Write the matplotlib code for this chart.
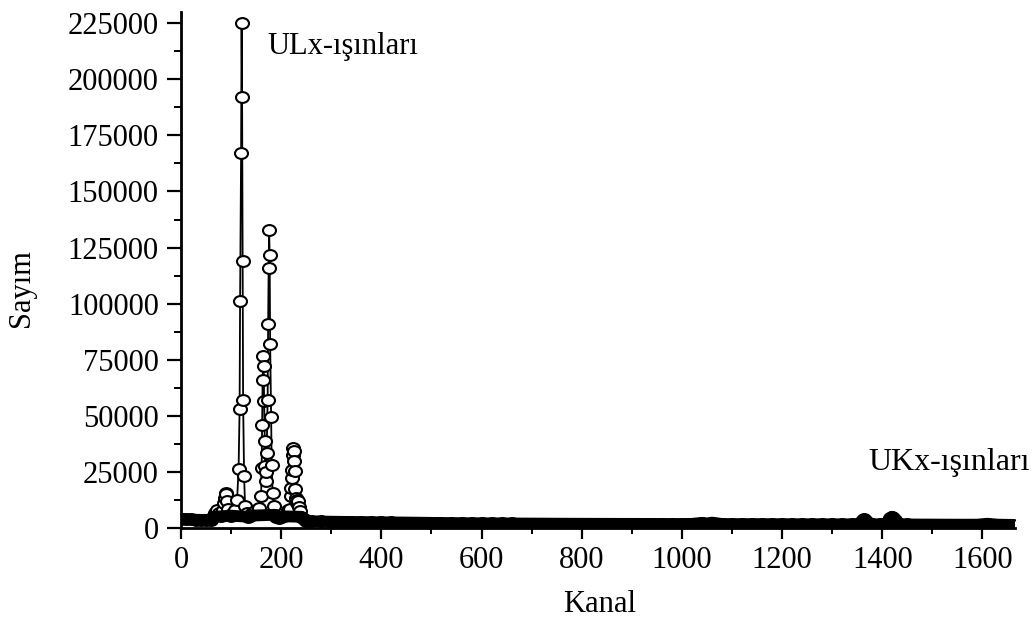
import matplotlib
matplotlib.use("Agg")
import matplotlib.pyplot as plt
import numpy as np
from matplotlib.ticker import MultipleLocator, FuncFormatter
from matplotlib.markers import MarkerStyle
from matplotlib.transforms import Affine2D

plt.rcParams['font.family'] = ['Liberation Serif', 'DejaVu Serif']

# --- data (channel, counts) ---
kanal = [0, 10, 20, 30, 40, 50, 60,
         64, 68, 72, 76, 80, 84, 86, 88, 89, 90, 92, 94, 97, 100, 104, 108,
         112, 115, 117, 118, 120, 121, 122, 123, 124, 126, 128, 131, 134,
         138, 142, 146, 150, 153, 156,
         160, 161, 162, 163, 164, 165, 166, 167, 168, 169, 170, 171, 173,
         174, 175, 176, 177, 178, 180, 181, 183, 185, 187,
         190, 195, 200, 205, 210, 214,
         217, 219, 220, 221, 222, 223, 224, 225, 226, 227, 228, 229, 231,
         232, 234, 235, 237, 240, 245, 250,
         260, 280, 300, 320, 340, 360, 380, 400, 420, 440, 460, 480, 500,
         520, 540, 560, 580, 600, 620, 640, 660, 680, 700, 720, 740, 760,
         780, 800, 820, 840, 860, 880, 900, 920, 940, 960, 980, 1000, 1020,
         1040, 1050, 1060, 1080, 1100, 1120, 1140, 1160, 1180, 1200, 1220,
         1240, 1260, 1280, 1300, 1320, 1340, 1352,
         1355, 1358, 1361, 1364, 1367, 1370, 1380, 1395, 1405,
         1410, 1413, 1416, 1419, 1422, 1425, 1428, 1435, 1450,
         1470, 1490, 1510, 1530, 1550, 1570, 1590, 1610, 1630, 1650, 1660]
sayim = [4200, 3900, 3800, 3700, 3600, 3500, 3400,
         5000, 6800, 8200, 6500, 5200, 8000, 11000, 13400, 15600, 15000, 12000, 8500, 6000, 5500, 6500, 8000,
         12600, 26300, 53000, 101000, 167000, 225000, 192000, 119000, 57000, 23000, 9600, 6500, 5000,
         5500, 6500, 7000, 8200, 7500, 8900,
         14100, 26700, 46000, 65800, 76500, 72000, 56400, 38900, 27500, 20800, 24800, 33400, 57200,
         91000, 115900, 132600, 121700, 82000, 49300, 28200, 15600, 9600, 5900,
         5000, 4500, 4800, 5200, 6000, 8200,
         8500, 14100, 18000, 22400, 26000, 32700, 35600, 34100, 29700, 25200, 17400, 13500, 11100,
         12600, 11900, 9400, 7400, 5000, 3800, 3300,
         3000, 2900, 2800, 2750, 2700, 2650, 2600, 2550, 2500, 2450, 2400, 2350, 2300,
         2250, 2200, 2150, 2120, 2100, 2080, 2050, 2030, 2000, 1980, 1960, 1940, 1920,
         1900, 1890, 1880, 1870, 1860, 1850, 1840, 1830, 1820, 1810, 1800, 1790, 1850,
         2300, 2000, 2400, 1800, 1760, 1750, 1740, 1730, 1720, 1700, 1690,
         1680, 1670, 1660, 1650, 1640, 1630, 1700,
         2000, 2800, 3600, 3900, 3000, 2000, 1650, 1600, 1700,
         2100, 3200, 4400, 5000, 4600, 3400, 2200, 1650, 1580,
         1560, 1540, 1520, 1500, 1490, 1480, 1500, 1900, 1500, 1420, 1400]

kanal = np.array(kanal)
sayim = np.array(sayim)

xticks_major = [0, 200, 400, 600, 800, 1000, 1200, 1400, 1600]
yticks_major = [0, 25000, 50000, 75000, 100000, 125000, 150000, 175000, 200000, 225000]

fig = plt.figure(figsize=(10.33, 6.3), dpi=100)
ax = fig.add_axes([0.1752, 0.1619, 0.8074, 0.8191])

# slightly flattened open circles, as in the scanned original
circ = MarkerStyle('o', fillstyle='full', transform=Affine2D().scale(1.2, 1.0))

# spectrum: line with open circles
ax.plot(kanal, sayim, '-', color='black', lw=1.3, marker=circ, ms=7.8,
        mfc='white', mec='black', mew=1.5, zorder=2)

# dense low-level continuum appears as a solid black band
low = sayim < 6000
ax.plot(kanal[low], sayim[low], '-', color='black', lw=8.5,
        solid_capstyle='round', solid_joinstyle='round', zorder=3)

ax.set_xlim(0, 1665)
ax.set_ylim(0, 230000)

ax.set_xticks(xticks_major)
ax.set_yticks(yticks_major)
ax.xaxis.set_minor_locator(MultipleLocator(100))
ax.yaxis.set_minor_locator(MultipleLocator(12500))
ax.yaxis.set_major_formatter(FuncFormatter(lambda v, p: f"{int(v)}"))

for s in ['top', 'right']:
    ax.spines[s].set_visible(False)
for s in ['left', 'bottom']:
    ax.spines[s].set_linewidth(2.0)

ax.tick_params(axis='y', which='major', direction='out', length=10, width=1.6,
               labelsize=22, pad=6)
ax.tick_params(axis='y', which='minor', direction='out', length=5, width=1.4)
ax.tick_params(axis='x', which='major', direction='out', length=8, width=1.6,
               labelsize=22, pad=5)
ax.tick_params(axis='x', which='minor', direction='out', length=4, width=1.4)

ax.text(172, 214500, 'ULx-ışınları', fontsize=22, ha='left', va='center')
ax.text(1695, 29000, 'UKx-ışınları', fontsize=23, ha='right', va='center',
        clip_on=False)

fig.text(22 / 1033, 1 - 288 / 630, 'Sayım', rotation=90, fontsize=22,
         ha='center', va='center')
fig.text(600 / 1033, 1 - 605 / 630, 'Kanal', fontsize=22, ha='center',
         va='center')

fig.savefig('out.png', dpi=100)
